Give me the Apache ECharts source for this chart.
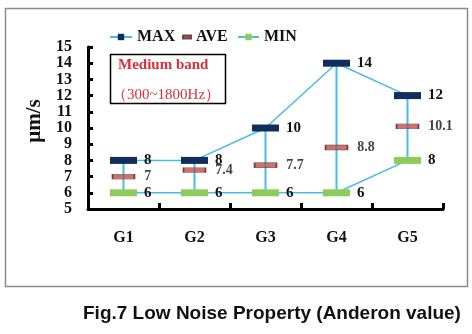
<!DOCTYPE html>
<html>
<head>
<meta charset="utf-8">
<script src="https://cdn.jsdelivr.net/npm/echarts@6/dist/echarts.min.js"></script>
<style>
  html, body { margin: 0; padding: 0; background: #fff; }
  #chart { width: 472px; height: 334px; }
</style>
</head>
<body>
<div id="chart"></div>
<script>
// Groups and measured Anderon values (μm/s), medium band 300~1800Hz
const groups = ['G1', 'G2', 'G3', 'G4', 'G5'];
const maxValues = [8, 8, 10, 14, 12];
const aveValues = [7, 7.4, 7.7, 8.8, 10.1];
const minValues = [6, 6, 6, 6, 8];
const yTicks = { min: 5, max: 15, step: 1 };

const serif = '"Liberation Serif", "Times New Roman", serif';
const lineBlue = '#45BDE6';
const labelStyle = { show: true, position: 'right', distance: 6, color: '#111',
  fontFamily: serif, fontWeight: 'bold', fontSize: 15 };
const legendText = { fontFamily: serif, fontWeight: 'bold', fontSize: 16, color: '#111' };

// range bars from min to max for each group
const rangeData = groups.map((g, i) => [i, minValues[i], maxValues[i]]);

const chart = echarts.init(document.getElementById('chart'));
chart.setOption({
  backgroundColor: '#fff',
  animation: false,
  title: {
    text: 'Fig.7 Low Noise Property (Anderon value)',
    left: 78, top: 299,
    textStyle: { fontFamily: '"Liberation Sans", Arial, sans-serif', fontWeight: 'bold',
      fontSize: 19, color: '#111' }
  },
  legend: [
    { data: ['MAX'], left: 104, top: 24, itemWidth: 22, itemHeight: 8, itemGap: 0, textStyle: legendText },
    { data: ['AVE'], left: 177, top: 24, itemWidth: 8, itemHeight: 3, itemGap: 0, textStyle: legendText },
    { data: ['MIN'], left: 232, top: 24, itemWidth: 21, itemHeight: 8, itemGap: 0, textStyle: legendText }
  ],
  grid: { left: 88, right: 29, top: 47, bottom: 125 },
  xAxis: {
    type: 'category',
    data: groups,
    boundaryGap: true,
    axisLine: { lineStyle: { color: '#000', width: 3 } },
    axisTick: { show: true, inside: true, length: 6, lineStyle: { color: '#000', width: 3 } },
    axisLabel: { margin: 21, color: '#111', fontFamily: serif, fontWeight: 'bold', fontSize: 16 },
    splitLine: { show: false }
  },
  yAxis: {
    type: 'value',
    min: yTicks.min, max: yTicks.max, interval: yTicks.step,
    name: 'μm/s',
    nameLocation: 'middle',
    nameGap: 18,
    nameRotate: 90,
    nameTextStyle: { fontFamily: serif, fontWeight: 'bold', fontSize: 21, color: '#111',
      padding: [0, 0, 0, 14] },
    axisLine: { show: true, lineStyle: { color: '#000', width: 3 } },
    axisTick: { show: true, inside: true, length: 5, lineStyle: { color: '#000', width: 3 } },
    axisLabel: { margin: 16, color: '#111', fontFamily: serif, fontWeight: 'bold', fontSize: 16,
      showMinLabel: true, showMaxLabel: true },
    splitLine: { show: false }
  },
  series: [
    {
      name: 'range',
      type: 'custom',
      data: rangeData,
      encode: { x: 0, y: [1, 2] },
      z: 1,
      silent: true,
      renderItem: function (params, api) {
        const lo = api.coord([api.value(0), api.value(1)]);
        const hi = api.coord([api.value(0), api.value(2)]);
        return {
          type: 'line',
          shape: { x1: lo[0], y1: lo[1], x2: hi[0], y2: hi[1] },
          style: { stroke: lineBlue, lineWidth: 2 }
        };
      }
    },
    {
      name: 'MAX',
      type: 'line',
      data: maxValues,
      z: 3,
      symbol: 'rect',
      symbolSize: [27, 7],
      itemStyle: { color: '#0F2E5C' },
      lineStyle: { color: lineBlue, width: 1.5 },
      label: Object.assign({}, labelStyle, { distance: 7 })
    },
    {
      name: 'AVE',
      type: 'scatter',
      data: aveValues,
      z: 4,
      symbol: 'rect',
      symbolSize: [22, 5],
      itemStyle: { color: '#B8504E', borderColor: '#5A1F1F', borderWidth: 0.8 },
      label: Object.assign({}, labelStyle, { fontSize: 14, distance: 9 })
    },
    {
      name: 'MIN',
      type: 'line',
      data: minValues,
      z: 3,
      symbol: 'rect',
      symbolSize: [27, 7],
      itemStyle: { color: '#8DCB5A' },
      lineStyle: { color: lineBlue, width: 1.5 },
      label: Object.assign({}, labelStyle, { distance: 7 })
    }
  ],
  graphic: [
    {
      type: 'rect', silent: true, z: -1,
      shape: { x: 5.5, y: 8.5, width: 462, height: 278 },
      style: { fill: 'none', stroke: '#8a8a8a', lineWidth: 1.5 }
    },
    {
      type: 'rect', silent: true,
      shape: { x: 110.5, y: 54.5, width: 115, height: 49 },
      style: { fill: '#fff', stroke: '#000', lineWidth: 1.5 }
    },
    {
      type: 'text', silent: true, left: 118, top: 58,
      style: { text: 'Medium band', fill: '#D9303A', font: 'bold 15px ' + serif }
    },
    {
      type: 'text', silent: true, left: 112, top: 88,
      style: { text: '（300~1800Hz）', fill: '#D9303A', font: '15px ' + serif }
    }
  ]
});
</script>
</body>
</html>
